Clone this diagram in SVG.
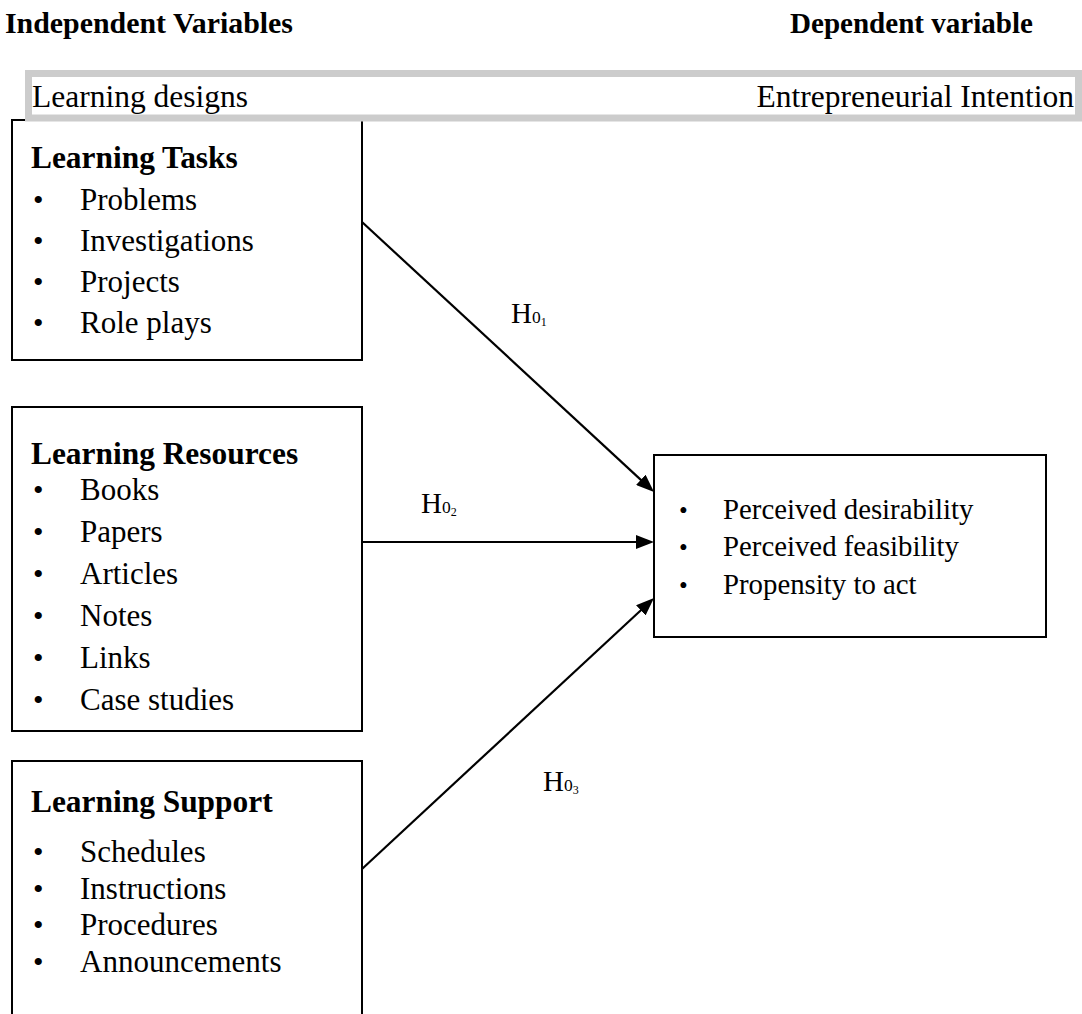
<svg xmlns="http://www.w3.org/2000/svg" width="1082" height="1014" viewBox="0 0 1082 1014">
<style>
text{font-family:"Liberation Serif","Times New Roman",serif;fill:#000}
.top{font-size:29.5px;font-weight:bold}
.hd{font-size:31.4px;font-weight:bold}
.it{font-size:31px}
.ban{font-size:31.5px}
.rt{font-size:28.8px}
.bul{font-size:30px}
.rbul{font-size:25px}
.box{fill:#fff;stroke:#000;stroke-width:2}
.banner{fill:#fff;stroke:#cccccc;stroke-width:7}
.conn{stroke:#000;stroke-width:2.2;fill:none}
.h{font-size:29px}
</style>
<defs>
<marker id="ah" viewBox="0 0 18 14" refX="6" refY="7" markerWidth="18" markerHeight="14" markerUnits="userSpaceOnUse" orient="auto">
<path d="M0,0 L18,7 L0,14 z" fill="#000"/>
</marker>
</defs>
<rect width="1082" height="1014" fill="#fff"/>
<g id="headers">
<text class="top" x="5" y="33" textLength="288" lengthAdjust="spacingAndGlyphs">Independent Variables</text>
<text class="top" x="790" y="33" textLength="243" lengthAdjust="spacingAndGlyphs">Dependent variable</text>
</g>
<g id="learning-tasks">
<rect class="box" x="12" y="120" width="350" height="240"/>
<text class="hd" x="31" y="168">Learning Tasks</text>
<text class="bul" x="33" y="210">•</text><text class="it" x="80" y="210">Problems</text>
<text class="bul" x="33" y="251">•</text><text class="it" x="80" y="251">Investigations</text>
<text class="bul" x="33" y="292">•</text><text class="it" x="80" y="292">Projects</text>
<text class="bul" x="33" y="333">•</text><text class="it" x="80" y="333">Role plays</text>
</g>
<g id="banner">
<rect class="banner" x="28.5" y="73.5" width="1050" height="44.5"/>
<text class="ban" x="32" y="107">Learning designs</text>
<text class="ban" x="1074" y="107" text-anchor="end">Entrepreneurial Intention</text>
</g>
<g id="learning-resources">
<rect class="box" x="12" y="407" width="350" height="324"/>
<text class="hd" x="31" y="464">Learning Resources</text>
<text class="bul" x="33" y="500">•</text><text class="it" x="80" y="500">Books</text>
<text class="bul" x="33" y="542">•</text><text class="it" x="80" y="542">Papers</text>
<text class="bul" x="33" y="584">•</text><text class="it" x="80" y="584">Articles</text>
<text class="bul" x="33" y="626">•</text><text class="it" x="80" y="626">Notes</text>
<text class="bul" x="33" y="668">•</text><text class="it" x="80" y="668">Links</text>
<text class="bul" x="33" y="710">•</text><text class="it" x="80" y="710">Case studies</text>
</g>
<g id="learning-support">
<rect class="box" x="12" y="761" width="350" height="260"/>
<text class="hd" x="31" y="812">Learning Support</text>
<text class="bul" x="33" y="862">•</text><text class="it" x="80" y="862">Schedules</text>
<text class="bul" x="33" y="898.5">•</text><text class="it" x="80" y="898.5">Instructions</text>
<text class="bul" x="33" y="935">•</text><text class="it" x="80" y="935">Procedures</text>
<text class="bul" x="33" y="972">•</text><text class="it" x="80" y="972">Announcements</text>
</g>
<g id="entrepreneurial-intention">
<rect class="box" x="654" y="455" width="392" height="182"/>
<text class="rbul" x="679" y="519">•</text><text class="rt" x="723" y="519">Perceived desirability</text>
<text class="rbul" x="679" y="556">•</text><text class="rt" x="723" y="556">Perceived feasibility</text>
<text class="rbul" x="679" y="594">•</text><text class="rt" x="723" y="594">Propensity to act</text>
</g>
<g id="connectors">
<path class="conn" d="M362,222 L645.2,483.9" marker-end="url(#ah)"/>
<path class="conn" d="M362,542 L642,542" marker-end="url(#ah)"/>
<path class="conn" d="M362,869 L645.2,606.2" marker-end="url(#ah)"/>
<text class="h" x="511" y="323">H<tspan font-size="17.5">0</tspan><tspan font-size="12" dy="3">1</tspan></text>
<text class="h" x="421" y="513">H<tspan font-size="17.5">0</tspan><tspan font-size="12" dy="3">2</tspan></text>
<text class="h" x="543" y="791">H<tspan font-size="17.5">0</tspan><tspan font-size="12" dy="3">3</tspan></text>
</g>
</svg>
